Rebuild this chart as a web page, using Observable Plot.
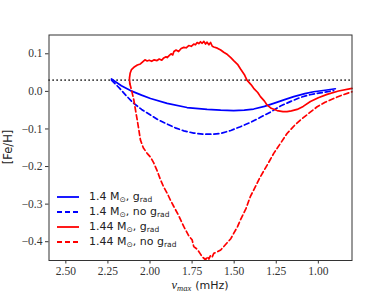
<!DOCTYPE html>
<html>
<head>
<meta charset="utf-8">
<script src="https://cdn.jsdelivr.net/npm/d3@7"></script>
<script src="https://cdn.jsdelivr.net/npm/@observablehq/plot@0.6"></script>
<style>
html,body{margin:0;padding:0;background:#fff;}
#wrap{position:relative;width:391px;height:293px;}
#legend{position:absolute;left:56px;top:190px;font-family:"DejaVu Sans",sans-serif;font-size:11px;color:#222;}
#legend .row{display:flex;align-items:center;height:14.8px;}
#legend svg{margin-right:9px;}
#legend sub{font-size:7.5px;vertical-align:-2px;}
</style>
</head>
<body>
<div id="wrap"><div id="legend"></div></div>
<script>
const xTicks = [2.5, 2.25, 2.0, 1.75, 1.5, 1.25, 1.0];
const yTicks = [-0.4, -0.3, -0.2, -0.1, 0.0, 0.1];
const refLevel = [0.03];

const blueSolidX = [2.229, 2.17, 2.116, 2.05, 1.997, 1.898, 1.78, 1.661, 1.58, 1.503, 1.44, 1.384, 1.32, 1.265, 1.2, 1.146, 1.08, 1.028, 0.96, 0.899];
const blueSolidY = [0.033, 0.015, 0.002, -0.010, -0.019, -0.032, -0.043, -0.048, -0.050, -0.051, -0.050, -0.047, -0.040, -0.032, -0.022, -0.014, -0.006, -0.001, 0.003, 0.007];

const blueDashX = [2.229, 2.18, 2.136, 2.096, 2.05, 1.997, 1.95, 1.898, 1.85, 1.799, 1.74, 1.68, 1.63, 1.581, 1.52, 1.463, 1.40, 1.344, 1.28, 1.225, 1.16, 1.106, 1.05, 0.988, 0.909];
const blueDashY = [0.030, 0.008, -0.014, -0.032, -0.048, -0.063, -0.076, -0.087, -0.097, -0.105, -0.111, -0.114, -0.114, -0.112, -0.104, -0.094, -0.082, -0.069, -0.054, -0.039, -0.026, -0.016, -0.009, -0.004, 0.002];

const redSolidX = [2.120, 2.122, 2.118, 2.11, 2.096, 2.075, 2.057, 2.04, 2.03, 2.017, 2.005, 1.99, 1.975, 1.958, 1.945, 1.93, 1.918, 1.905, 1.898, 1.885, 1.875, 1.865, 1.858, 1.845, 1.83, 1.815, 1.799, 1.785, 1.77, 1.755, 1.74, 1.73, 1.72, 1.71, 1.70, 1.69, 1.68, 1.67, 1.661, 1.65, 1.64, 1.63, 1.621, 1.60, 1.58, 1.562, 1.54, 1.52, 1.503, 1.48, 1.463, 1.44, 1.424, 1.40, 1.384, 1.36, 1.344, 1.32, 1.305, 1.28, 1.245, 1.21, 1.186, 1.16, 1.126, 1.09, 1.047, 1.00, 0.948, 0.88, 0.80];
const redSolidY = [0.020, 0.035, 0.048, 0.058, 0.064, 0.070, 0.073, 0.080, 0.084, 0.081, 0.083, 0.080, 0.084, 0.082, 0.086, 0.083, 0.089, 0.092, 0.090, 0.096, 0.100, 0.097, 0.106, 0.110, 0.106, 0.114, 0.117, 0.116, 0.122, 0.120, 0.126, 0.124, 0.130, 0.127, 0.132, 0.128, 0.133, 0.126, 0.131, 0.124, 0.130, 0.120, 0.118, 0.115, 0.110, 0.104, 0.098, 0.090, 0.082, 0.072, 0.060, 0.045, 0.030, 0.018, 0.008, -0.003, -0.014, -0.026, -0.036, -0.045, -0.051, -0.054, -0.054, -0.052, -0.048, -0.040, -0.027, -0.017, -0.008, 0.001, 0.008];

const redDashX = [2.120, 2.108, 2.096, 2.086, 2.076, 2.066, 2.057, 2.04, 2.017, 1.997, 1.977, 1.957, 1.937, 1.918, 1.898, 1.878, 1.858, 1.83, 1.799, 1.77, 1.75, 1.740, 1.72, 1.70, 1.690, 1.680, 1.67, 1.66, 1.65, 1.64, 1.63, 1.621, 1.60, 1.58, 1.562, 1.54, 1.52, 1.503, 1.48, 1.463, 1.43, 1.404, 1.37, 1.344, 1.30, 1.265, 1.22, 1.186, 1.14, 1.106, 1.05, 1.007, 0.96, 0.909, 0.86, 0.80];
const redDashY = [0.021, 0.000, -0.023, -0.050, -0.076, -0.103, -0.129, -0.150, -0.165, -0.175, -0.191, -0.212, -0.236, -0.255, -0.271, -0.290, -0.307, -0.330, -0.360, -0.384, -0.395, -0.413, -0.420, -0.433, -0.440, -0.444, -0.448, -0.440, -0.446, -0.436, -0.440, -0.431, -0.427, -0.422, -0.413, -0.402, -0.392, -0.378, -0.360, -0.342, -0.312, -0.280, -0.250, -0.227, -0.193, -0.165, -0.135, -0.112, -0.090, -0.076, -0.056, -0.041, -0.029, -0.019, -0.010, -0.001];

const series = [
  {name: "1.4 M<sub>⊙</sub>, g<sub>rad</sub>", color: "#0000ff", dash: null, xs: blueSolidX, ys: blueSolidY},
  {name: "1.4 M<sub>⊙</sub>, no g<sub>rad</sub>", color: "#0000ff", dash: "5,3", xs: blueDashX, ys: blueDashY},
  {name: "1.44 M<sub>⊙</sub>, g<sub>rad</sub>", color: "#ff0000", dash: null, xs: redSolidX, ys: redSolidY},
  {name: "1.44 M<sub>⊙</sub>, no g<sub>rad</sub>", color: "#ff0000", dash: "5,3", xs: redDashX, ys: redDashY}
];

const lineMarks = series.map(s => Plot.line(s.xs.map((x, i) => ({x, y: s.ys[i]})), {
  x: "x", y: "y", stroke: s.color, strokeWidth: 1.7, strokeDasharray: s.dash || undefined, curve: "linear"
}));

const fmtY = d => d3.format(".1f")(d);

const chart = Plot.plot({
  width: 391, height: 293,
  marginLeft: 48.5, marginRight: 39.5, marginTop: 34.5, marginBottom: 33,
  style: {fontFamily: "'Liberation Serif', 'DejaVu Serif', serif", fontSize: "11.5px", color: "#333", background: "white"},
  x: {domain: [2.6, 0.8], ticks: xTicks, tickFormat: d3.format(".2f"), tickSize: 3.5, tickPadding: 3, label: null},
  y: {domain: [-0.45, 0.15], ticks: yTicks, tickFormat: fmtY, tickSize: 3.5, tickPadding: 3, label: null},
  marks: [
    Plot.ruleY(refLevel, {stroke: "black", strokeWidth: 1.6, strokeDasharray: "1.2,2.8"}),
    ...lineMarks,
    Plot.frame({stroke: "#333", strokeWidth: 1})
  ]
});
chart.style.position = "absolute";
chart.style.left = "0px";
chart.style.top = "0px";
const wrap = document.getElementById("wrap");
wrap.insertBefore(chart, wrap.firstChild);

const svg = d3.select(chart);
const xl = svg.append("text").attr("x", 200).attr("y", 289).attr("text-anchor", "middle").attr("fill", "#222")
  .style("font-family", "'DejaVu Sans', sans-serif").style("font-size", "11px");
xl.append("tspan").style("font-family", "'Liberation Serif', serif").style("font-style", "italic").style("font-size", "12.5px").text("ν");
xl.append("tspan").attr("dy", 2).style("font-family", "'Liberation Serif', serif").style("font-style", "italic").style("font-size", "8.5px").text("max");
xl.append("tspan").attr("dy", -2).attr("dx", 4).text("(mHz)");
svg.append("text").attr("transform", "translate(12,147) rotate(-90)").attr("text-anchor", "middle")
  .style("font-family", "'DejaVu Sans', sans-serif").style("font-size", "11.5px").attr("fill", "#222")
  .text("[Fe/H]");

const leg = d3.select("#legend");
series.forEach(s => {
  const row = leg.append("div").attr("class", "row");
  const ls = row.append("svg").attr("width", 24).attr("height", 6);
  ls.append("line").attr("x1", 1).attr("x2", 23).attr("y1", 3).attr("y2", 3)
    .attr("stroke", s.color).attr("stroke-width", 1.8).attr("stroke-dasharray", s.dash);
  row.append("span").html(s.name);
});
</script>
</body>
</html>
